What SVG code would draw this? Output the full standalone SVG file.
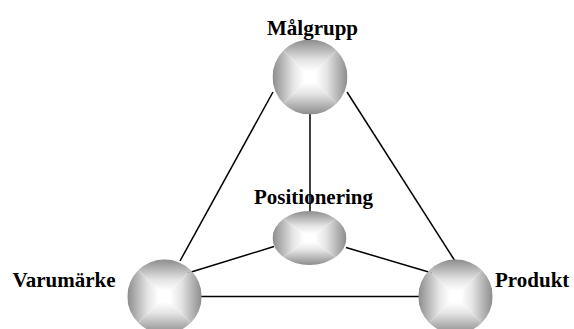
<svg xmlns="http://www.w3.org/2000/svg" width="574" height="329" viewBox="0 0 574 329">
<style>
.lbl{font-family:"Liberation Serif","Times New Roman",serif;font-weight:bold;font-size:21px;fill:#000}
.edge{stroke:#000;stroke-width:1.5;fill:none}
.s0{stop-color:#8c8c8c}.s1{stop-color:#b4b4b4}.s2{stop-color:#e4e4e4}.s3{stop-color:#ffffff}
</style>
<defs>
<linearGradient id="gT" x1="0" y1="0" x2="0" y2="1"><stop offset="0" class="s0"/><stop offset="0.25" class="s1"/><stop offset="0.55" class="s2"/><stop offset="0.85" class="s3"/></linearGradient>
<linearGradient id="gB" x1="0" y1="1" x2="0" y2="0"><stop offset="0" class="s0"/><stop offset="0.25" class="s1"/><stop offset="0.55" class="s2"/><stop offset="0.85" class="s3"/></linearGradient>
<linearGradient id="gL" x1="0" y1="0" x2="1" y2="0"><stop offset="0" class="s0"/><stop offset="0.25" class="s1"/><stop offset="0.55" class="s2"/><stop offset="0.85" class="s3"/></linearGradient>
<linearGradient id="gR" x1="1" y1="0" x2="0" y2="0"><stop offset="0" class="s0"/><stop offset="0.25" class="s1"/><stop offset="0.55" class="s2"/><stop offset="0.85" class="s3"/></linearGradient>
<clipPath id="cM"><circle cx="310" cy="77" r="37.5"/></clipPath>
<clipPath id="cP"><ellipse cx="309.5" cy="238" rx="37" ry="27"/></clipPath>
<clipPath id="cV"><circle cx="164.5" cy="296.5" r="37.2"/></clipPath>
<clipPath id="cR"><circle cx="455.5" cy="296.5" r="37.2"/></clipPath>
</defs>
<g id="connectors">
<line class="edge" x1="273" y1="92" x2="180" y2="261"/>
<line class="edge" x1="347" y1="92" x2="455" y2="261"/>
<line class="edge" x1="310" y1="114" x2="310" y2="212"/>
<line class="edge" x1="274" y1="246.5" x2="188" y2="273"/>
<line class="edge" x1="346" y1="247.5" x2="432" y2="273"/>
<line class="edge" x1="201" y1="296.5" x2="419" y2="296.5"/>
</g>
<g id="malgrupp">
<g clip-path="url(#cM)">
<polygon points="272.5,39.5 347.5,39.5 310,77" fill="url(#gT)"/>
<polygon points="272.5,114.5 347.5,114.5 310,77" fill="url(#gB)"/>
<polygon points="272.5,39.5 272.5,114.5 310,77" fill="url(#gL)"/>
<polygon points="347.5,39.5 347.5,114.5 310,77" fill="url(#gR)"/>
</g>
<text class="lbl" x="312.5" y="35" text-anchor="middle">Målgrupp</text>
</g>
<g id="positionering">
<g clip-path="url(#cP)">
<polygon points="272.5,211 346.5,211 309.5,238" fill="url(#gT)"/>
<polygon points="272.5,265 346.5,265 309.5,238" fill="url(#gB)"/>
<polygon points="272.5,211 272.5,265 309.5,238" fill="url(#gL)"/>
<polygon points="346.5,211 346.5,265 309.5,238" fill="url(#gR)"/>
</g>
<text class="lbl" x="313.5" y="204" text-anchor="middle">Positionering</text>
</g>
<g id="varumarke">
<g clip-path="url(#cV)">
<polygon points="127.3,259.3 201.7,259.3 164.5,296.5" fill="url(#gT)"/>
<polygon points="127.3,333.7 201.7,333.7 164.5,296.5" fill="url(#gB)"/>
<polygon points="127.3,259.3 127.3,333.7 164.5,296.5" fill="url(#gL)"/>
<polygon points="201.7,259.3 201.7,333.7 164.5,296.5" fill="url(#gR)"/>
</g>
<text class="lbl" x="64" y="287" text-anchor="middle">Varumärke</text>
</g>
<g id="produkt">
<g clip-path="url(#cR)">
<polygon points="418.3,259.3 492.7,259.3 455.5,296.5" fill="url(#gT)"/>
<polygon points="418.3,333.7 492.7,333.7 455.5,296.5" fill="url(#gB)"/>
<polygon points="418.3,259.3 418.3,333.7 455.5,296.5" fill="url(#gL)"/>
<polygon points="492.7,259.3 492.7,333.7 455.5,296.5" fill="url(#gR)"/>
</g>
<text class="lbl" x="495" y="287">Produkt</text>
</g>
</svg>
